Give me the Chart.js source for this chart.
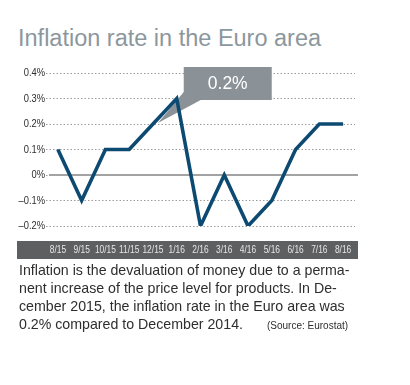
<!DOCTYPE html>
<html>
<head>
<meta charset="utf-8">
<script src="https://cdn.jsdelivr.net/npm/chart.js@4"></script>
<style>
  body { margin: 0; background: #fff; width: 410px; height: 385px; position: relative; overflow: hidden; }
  #title { position: absolute; left: 18px; top: 27px; font: 23.5px "Liberation Sans", Arial, sans-serif; line-height: 1; color: #8c979d; white-space: nowrap; }
  #chart { position: absolute; left: 0; top: 0; }
  #note { position: absolute; left: 19px; top: 261px; font: 14.2px "Liberation Sans", Arial, sans-serif; line-height: 18px; color: #2e2e2e; white-space: nowrap; }
  #note .src { font-size: 10px; margin-left: 24px; }
</style>
</head>
<body>
<div id="title">Inflation rate in the Euro area</div>
<canvas id="chart" width="410" height="270"></canvas>
<div id="note">Inflation is the devaluation of money due to a perma-<br>nent increase of the price level for products. In De-<br>cember 2015, the inflation rate in the Euro area was<br>0.2% compared to December 2014.<span class="src">(Source: Eurostat)</span></div>
<script>
// data
const months = ["8/15", "9/15", "10/15", "11/15", "12/15", "1/16", "2/16", "3/16", "4/16", "5/16", "6/16", "7/16", "8/16"];
const inflation = [0.1, -0.1, 0.1, 0.1, 0.2, 0.3, -0.2, 0, -0.2, -0.1, 0.1, 0.2, 0.2];
const yTicks = [-0.2, -0.1, 0, 0.1, 0.2, 0.3, 0.4];
const yTickLabels = ["\u20130.2%", "\u20130.1%", "0%", "0.1%", "0.2%", "0.3%", "0.4%"];
const calloutIndex = 4; // Dezember 2015

// schmale Schrift nachbilden: Text horizontal stauchen
function narrowText(ctx, text, x, y, align, squeeze) {
    ctx.save();
    ctx.translate(x, y);
    ctx.scale(squeeze, 1);
    ctx.textAlign = align;
    ctx.fillText(text, 0, 0);
    ctx.restore();
}

const extras = {
    id: "extras",
    beforeDraw(chart) {
        const ctx = chart.ctx;
        const area = chart.chartArea;
        ctx.save();
        ctx.fillStyle = "#5e5f61";
        ctx.fillRect(17, area.bottom + 15, area.right + 3 - 17, 18);
        ctx.restore();
    },
    beforeDatasetsDraw(chart) {
        const ctx = chart.ctx;
        const area = chart.chartArea;
        const x = chart.scales.x, y = chart.scales.y;
        ctx.save();
        // Nulllinie
        ctx.strokeStyle = "#a3a3a3";
        ctx.lineWidth = 2;
        ctx.beginPath();
        ctx.moveTo(area.left + 3, y.getPixelForValue(0));
        ctx.lineTo(area.right + 3, y.getPixelForValue(0));
        ctx.stroke();

        // Achsenbeschriftungen
        ctx.font = "10.5px 'Liberation Sans', Arial, sans-serif";
        ctx.textBaseline = "middle";
        ctx.fillStyle = "#e6e6e6";
        months.forEach((m, i) => narrowText(ctx, m, x.getPixelForValue(i), area.bottom + 24.5, "center", 0.8));
        ctx.font = "11px 'Liberation Sans', Arial, sans-serif";
        ctx.fillStyle = "#2e2e2e";
        yTicks.forEach((v, i) => narrowText(ctx, yTickLabels[i], area.left - 1, y.getPixelForValue(v), "right", 0.85));

        // Callout
        const px = x.getPixelForValue(calloutIndex);
        const py = y.getPixelForValue(inflation[calloutIndex]);
        const bx = x.getPixelForValue(calloutIndex + 1) + 7;
        const by = y.getPixelForValue(0.4) - 6;
        const bw = 88, bh = 33;
        ctx.fillStyle = "#8a9197";
        ctx.fillRect(bx, by, bw, bh);
        ctx.beginPath();
        ctx.moveTo(bx, by + bh - 8);
        ctx.lineTo(bx + 17, by + bh);
        ctx.lineTo(px + 5, py - 1);
        ctx.closePath();
        ctx.fill();
        ctx.fillStyle = "#ffffff";
        ctx.font = "17.5px 'Liberation Sans', Arial, sans-serif";
        ctx.textAlign = "center";
        ctx.textBaseline = "middle";
        ctx.fillText(inflation[calloutIndex].toFixed(1) + "%", bx + bw / 2, by + bh / 2 + 1);
        ctx.restore();
    }
};

new Chart(document.getElementById("chart"), {
    type: "line",
    data: {
        labels: months,
        datasets: [{
            data: inflation,
            borderColor: "#0d4a72",
            borderWidth: 3.6,
            pointRadius: 0,
            tension: 0,
            borderJoinStyle: "miter",
            borderCapStyle: "butt"
        }]
    },
    options: {
        responsive: false,
        animation: false,
        layout: { padding: { top: 73, right: 55, left: 0, bottom: 0 } },
        plugins: { legend: { display: false }, tooltip: { enabled: false } },
        scales: {
            x: {
                offset: true,
                grid: { display: false },
                border: { display: false },
                ticks: { display: false },
                afterFit(scale) { scale.height = 44; }
            },
            y: {
                min: -0.2,
                max: 0.4,
                afterBuildTicks(scale) { scale.ticks = yTicks.map(v => ({ value: v })); },
                grid: { color: "#9c9c9c", lineWidth: 1, drawTicks: false },
                border: { display: false, dash: [1.5, 2] },
                ticks: { display: false },
                afterFit(scale) { scale.width = 46; }
            }
        }
    },
    plugins: [extras]
});
</script>
</body>
</html>
